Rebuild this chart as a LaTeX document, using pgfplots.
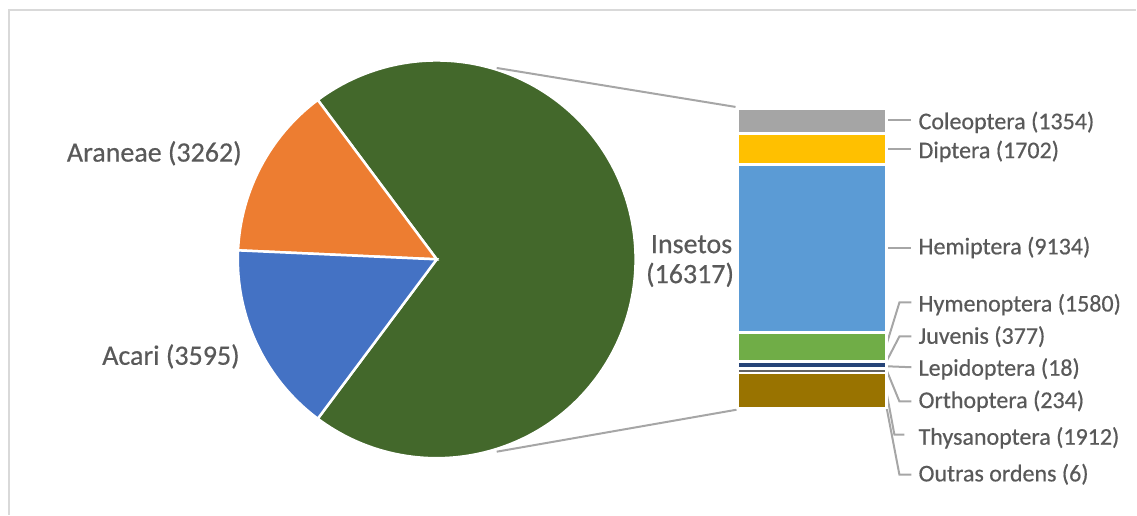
\documentclass[border=0pt]{standalone}
\usepackage{pgfplots}
\pgfplotsset{compat=1.18}
\usepackage{fontspec}
\setmainfont{Carlito}[BoldFont=Carlito, BoldFeatures={FakeBold=0.5}]
\definecolor{cAcari}{HTML}{4472C4}
\definecolor{cAraneae}{HTML}{ED7D31}
\definecolor{cInsetos}{HTML}{43682B}
\definecolor{cCol}{HTML}{A5A5A5}
\definecolor{cDip}{HTML}{FFC000}
\definecolor{cHem}{HTML}{5B9BD5}
\definecolor{cHym}{HTML}{70AD47}
\definecolor{cJuv}{HTML}{264478}
\definecolor{cLep}{HTML}{9E480E}
\definecolor{cOrt}{HTML}{636363}
\definecolor{cThy}{HTML}{997300}
\definecolor{cOut}{HTML}{255E91}
\definecolor{txt}{HTML}{595959}
\definecolor{lead}{HTML}{A6A6A6}
\definecolor{frame}{HTML}{D9D9D9}
\begin{document}
\begin{tikzpicture}
% pie data
\def\vAcari{3595}
\def\vAraneae{3262}
\def\vInsetos{16317}
\pgfmathsetmacro\tot{\vAcari/1000+\vAraneae/1000+\vInsetos/1000}
\pgfmathsetmacro\aIns{360*(\vInsetos/1000)/\tot}
\pgfmathsetmacro\sIns{-\aIns/2}
\pgfmathsetmacro\eIns{\aIns/2}
\pgfmathsetmacro\eAra{\eIns+360*(\vAraneae/1000)/\tot}
\pgfmathsetmacro\eAca{\eAra+360*(\vAcari/1000)/\tot}
\begin{axis}[scale only axis, width=1137pt, height=515pt,
  xmin=0, xmax=1137, ymin=0, ymax=515, hide axis, clip=false,
  at={(0pt,0pt)}, anchor=south west]
\path (axis cs:0,0) rectangle (axis cs:1137,515);
\draw[color=frame, line width=1.5pt] (axis cs:9,0) -- (axis cs:9,505) -- (axis cs:1137,505);
% pie
\filldraw[fill=cInsetos, draw=white, line width=2.5pt] (axis cs:437,255.5) -- ++(\sIns:199pt) arc[start angle=\sIns, end angle=\eIns, radius=199pt] -- cycle;
\filldraw[fill=cAraneae, draw=white, line width=2.5pt] (axis cs:437,255.5) -- ++(\eIns:199pt) arc[start angle=\eIns, end angle=\eAra, radius=199pt] -- cycle;
\filldraw[fill=cAcari, draw=white, line width=2.5pt] (axis cs:437,255.5) -- ++(\eAra:199pt) arc[start angle=\eAra, end angle=\eAca, radius=199pt] -- cycle;
% series lines
\draw[color=lead, line width=2pt] (axis cs:497,447) -- (axis cs:736,408);
\draw[color=lead, line width=2pt] (axis cs:497,63) -- (axis cs:737,105);
% pie labels
\begin{scope}[every node/.style={inner sep=0pt, text=txt, font=\fontsize{28pt}{33pt}\selectfont\bfseries}]
\node[anchor=base east] at (axis cs:242,353.3) {Araneae (3262)};
\node[anchor=base east] at (axis cs:240,150) {Acari (3595)};
\node[anchor=base] at (axis cs:692,261.7) {Insetos};
\node[anchor=base] at (axis cs:690.5,231.7) {(16317)};
\end{scope}
% bar leader lines
\begin{scope}[color=lead, line width=2pt]
\draw (axis cs:887,395) -- (axis cs:912,395);
\draw (axis cs:887,366) -- (axis cs:912,366);
\draw (axis cs:887,267) -- (axis cs:912,267);
\draw (axis cs:887,170) -- (axis cs:900,212.3) -- (axis cs:912,212.3);
\draw (axis cs:887,153.3) -- (axis cs:900,178.3) -- (axis cs:912,178.3);
\draw (axis cs:887,148.5) -- (axis cs:912,147.5);
\draw (axis cs:887,145) -- (axis cs:900,113.3) -- (axis cs:912,113.3);
\draw (axis cs:887,123) -- (axis cs:895,80) -- (axis cs:905,80);
\draw (axis cs:887,108) -- (axis cs:900,40) -- (axis cs:912,40);
\end{scope}
% bar labels
\begin{scope}[every node/.style={inner sep=0pt, text=txt, anchor=base west, font=\fontsize{24pt}{28pt}\selectfont\bfseries}]
\node at (axis cs:919,385.7) {Coleoptera (1354)};
\node at (axis cs:919,356.7) {Diptera (1702)};
\node at (axis cs:919,260.5) {Hemiptera (9134)};
\node at (axis cs:919,203.3) {Hymenoptera (1580)};
\node at (axis cs:919,171) {Juvenis (377)};
\node at (axis cs:919,139) {Lepidoptera (18)};
\node at (axis cs:919,106.7) {Orthoptera (234)};
\node at (axis cs:919,70) {Thysanoptera (1912)};
\node at (axis cs:919,33.3) {Outras ordens (6)};
\end{scope}
\end{axis}
% bar of pie
\begin{axis}[at={(737.75pt,106.75pt)}, anchor=south west, scale only axis,
  width=149.5pt, height=299.5pt, xmin=-0.5, xmax=0.5, ymin=0, ymax=16317,
  hide axis, ybar stacked, bar width=149.5pt, clip=false]
\addplot[fill=cOut, draw=white, line width=2.5pt] coordinates {(0,6)};
\addplot[fill=cThy, draw=white, line width=2.5pt] coordinates {(0,1912)};
\addplot[fill=cOrt, draw=white, line width=2.5pt] coordinates {(0,234)};
\addplot[fill=cLep, draw=white, line width=2.5pt] coordinates {(0,18)};
\addplot[fill=cJuv, draw=white, line width=2.5pt] coordinates {(0,377)};
\addplot[fill=cHym, draw=white, line width=2.5pt] coordinates {(0,1580)};
\addplot[fill=cHem, draw=white, line width=2.5pt] coordinates {(0,9134)};
\addplot[fill=cDip, draw=white, line width=2.5pt] coordinates {(0,1702)};
\addplot[fill=cCol, draw=white, line width=2.5pt] coordinates {(0,1354)};
\end{axis}
\end{tikzpicture}
\end{document}
